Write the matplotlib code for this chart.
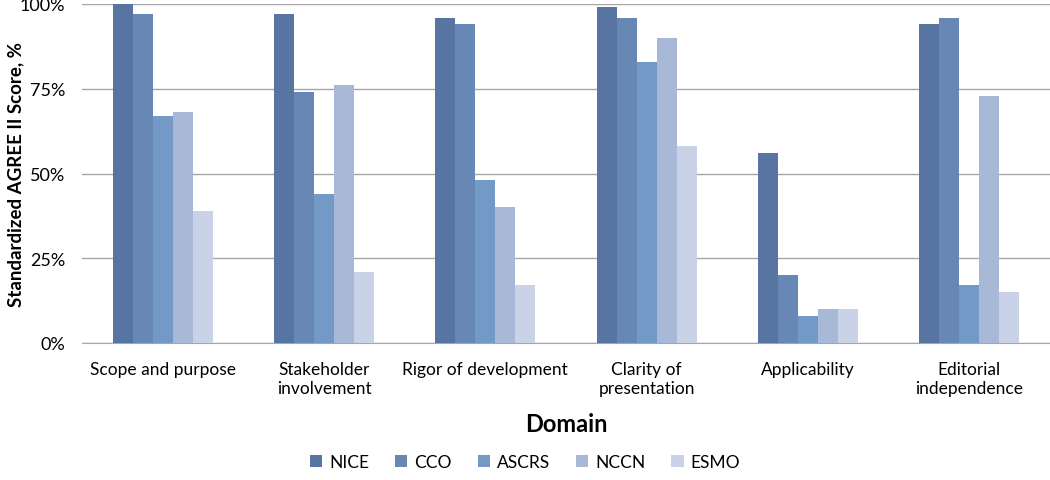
import matplotlib
matplotlib.use("Agg")
import matplotlib.pyplot as plt
import numpy as np
from matplotlib.ticker import PercentFormatter

plt.rcParams['font.family'] = ['Lato', 'DejaVu Sans']

domains = ["Scope and purpose", "Stakeholder\ninvolvement", "Rigor of development",
           "Clarity of\npresentation", "Applicability", "Editorial\nindependence"]
guidelines = ["NICE", "CCO", "ASCRS", "NCCN", "ESMO"]
scores = {
    "NICE":  [100, 97, 96, 99, 56, 94],
    "CCO":   [97, 74, 94, 96, 20, 96],
    "ASCRS": [67, 44, 48, 83, 8, 17],
    "NCCN":  [68, 76, 40, 90, 10, 73],
    "ESMO":  [39, 21, 17, 58, 10, 15],
}
colors = ["#5874a0", "#6787b5", "#7399c7", "#a8b8d7", "#c9d2e6"]

fig = plt.figure(figsize=(10.5, 4.81), dpi=100)
ax = fig.add_axes([82 / 1050, 1 - 344 / 481, 968 / 1050, 339 / 481])

x = np.arange(len(domains))
w = 0.124
for i, g in enumerate(guidelines):
    ax.bar(x + (i - 2) * w, scores[g], width=w, color=colors[i], label=g, zorder=3)

ax.set_xlim(-0.5, len(domains) - 0.5)
ax.set_ylim(0, 100)
ax.set_yticks([0, 25, 50, 75, 100])
ax.yaxis.set_major_formatter(PercentFormatter(decimals=0))
ax.set_xticks(x)
ax.set_xticklabels(domains)
ax.yaxis.grid(True, color="#a6a6a6", linewidth=1, zorder=0)
for s in ["top", "right", "left"]:
    ax.spines[s].set_visible(False)
ax.spines["bottom"].set_color("#a6a6a6")
ax.tick_params(axis="x", length=0, labelsize=12.5, pad=13)
ax.tick_params(axis="y", length=0, labelsize=13, pad=12)
ax.set_xlabel("Domain", fontsize=17, fontweight="bold", labelpad=12)
ax.set_ylabel("Standardized AGREE II Score, %", fontsize=13.5, fontweight="bold",
              va="center")
ax.yaxis.set_label_coords(-0.068, 0.5)

fig.legend(loc="lower center", ncol=5, frameon=False, fontsize=12.5,
           bbox_to_anchor=(0.5, -0.012), handlelength=0.7, handleheight=0.7,
           columnspacing=1.5, handletextpad=0.4)

fig.savefig("out.png", dpi=100)
